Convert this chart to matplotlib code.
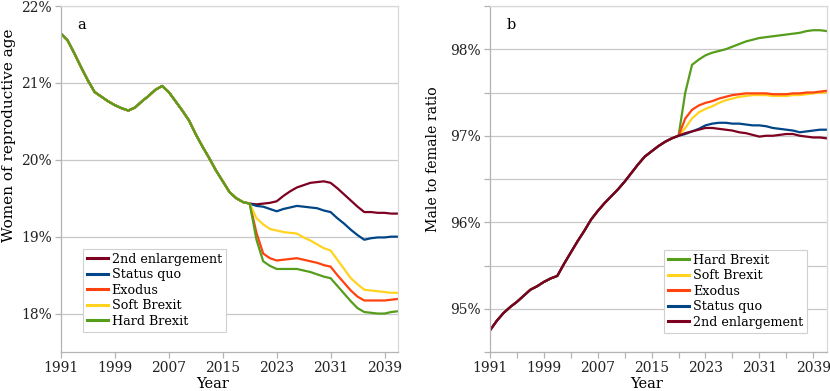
import matplotlib
matplotlib.use("Agg")
import matplotlib.pyplot as plt
from matplotlib.ticker import FixedLocator, FuncFormatter, MultipleLocator

plt.rcParams['font.family'] = ['DejaVu Serif']

# ---------------- data ----------------
hist_years = list(range(1991, 2020))
scen_years = list(range(2019, 2042))

# Panel a: share of women of reproductive age (%)
women_hist = [21.64, 21.55, 21.38, 21.20, 21.03, 20.88, 20.82, 20.76, 20.71, 20.67,
              20.64, 20.68, 20.76, 20.83, 20.91, 20.96, 20.88, 20.76, 20.64, 20.51,
              20.33, 20.17, 20.02, 19.86, 19.72, 19.58, 19.50, 19.45, 19.43]
women_2nd = [19.43, 19.42, 19.43, 19.44, 19.46, 19.53, 19.59, 19.64, 19.67, 19.70,
             19.71, 19.72, 19.70, 19.63, 19.55, 19.47, 19.39, 19.32, 19.32, 19.31,
             19.31, 19.30, 19.30]
women_sq = [19.43, 19.40, 19.39, 19.36, 19.33, 19.36, 19.38, 19.40, 19.39, 19.38,
            19.37, 19.34, 19.32, 19.24, 19.17, 19.09, 19.02, 18.96, 18.98, 18.99,
            18.99, 19.00, 19.00]
women_exodus = [19.43, 19.05, 18.78, 18.72, 18.69, 18.70, 18.71, 18.72, 18.70, 18.68,
                18.66, 18.63, 18.61, 18.50, 18.40, 18.30, 18.22, 18.17, 18.17, 18.17,
                18.17, 18.18, 18.19]
women_soft = [19.43, 19.24, 19.16, 19.10, 19.08, 19.06, 19.05, 19.04, 18.99, 18.95,
              18.90, 18.85, 18.82, 18.70, 18.58, 18.46, 18.38, 18.31, 18.30, 18.29,
              18.28, 18.27, 18.27]
women_hard = [19.43, 18.96, 18.68, 18.62, 18.58, 18.58, 18.58, 18.58, 18.56, 18.54,
              18.51, 18.48, 18.46, 18.36, 18.26, 18.16, 18.07, 18.02, 18.01, 18.00,
              18.00, 18.02, 18.03]

# Panel b: male to female ratio (%)
ratio_hist = [94.75, 94.86, 94.95, 95.02, 95.08, 95.15, 95.22, 95.26, 95.31, 95.35,
              95.38, 95.52, 95.65, 95.78, 95.90, 96.03, 96.13, 96.22, 96.30, 96.38,
              96.47, 96.57, 96.67, 96.76, 96.82, 96.88, 96.93, 96.97, 97.00]
ratio_hard = [97.00, 97.50, 97.82, 97.88, 97.93, 97.96, 97.98, 98.00, 98.03, 98.06,
              98.09, 98.11, 98.13, 98.14, 98.15, 98.16, 98.17, 98.18, 98.19, 98.21,
              98.22, 98.22, 98.21]
ratio_soft = [97.00, 97.09, 97.20, 97.27, 97.31, 97.34, 97.38, 97.41, 97.43, 97.45,
              97.46, 97.47, 97.47, 97.47, 97.46, 97.46, 97.46, 97.47, 97.47, 97.48,
              97.49, 97.50, 97.50]
ratio_exodus = [97.00, 97.20, 97.30, 97.35, 97.38, 97.40, 97.43, 97.45, 97.47, 97.48,
                97.49, 97.49, 97.49, 97.49, 97.48, 97.48, 97.48, 97.49, 97.49, 97.50,
                97.50, 97.51, 97.52]
ratio_sq = [97.00, 97.02, 97.05, 97.08, 97.12, 97.14, 97.15, 97.15, 97.14, 97.14,
            97.13, 97.12, 97.12, 97.11, 97.09, 97.08, 97.07, 97.06, 97.04, 97.05,
            97.06, 97.07, 97.07]
ratio_2nd = [97.00, 97.03, 97.05, 97.07, 97.09, 97.09, 97.08, 97.07, 97.06, 97.04,
             97.03, 97.01, 96.99, 97.00, 97.00, 97.01, 97.02, 97.02, 97.00, 96.99,
             96.98, 96.98, 96.97]

xtick_labels = [1991, 1999, 2007, 2015, 2023, 2031, 2039]

colors = {
    "2nd enlargement": "#7e0021",
    "Status quo": "#004586",
    "Exodus": "#ff420e",
    "Soft Brexit": "#ffd320",
    "Hard Brexit": "#579d1c",
}

full_years = hist_years + scen_years[1:]

fig = plt.figure(figsize=(8.30, 3.91), dpi=100)
W, H = 830, 391
def ax_rect(x0, x1, ytop, ybot):
    return [x0 / W, 1 - ybot / H, (x1 - x0) / W, (ybot - ytop) / H]

axA = fig.add_axes(ax_rect(61, 398, 6, 352))
axB = fig.add_axes(ax_rect(490, 826.7, 6, 352))

grid_c = "#c8c8c8"
spine_c = "#b3b3b3"
pct = FuncFormatter(lambda v, p: f"{v:.0f}%")

def style(ax):
    for s in ax.spines.values():
        s.set_color("#d9d9d9")
        s.set_linewidth(0.9)
    ax.spines['left'].set_color(spine_c)
    ax.spines['bottom'].set_color(spine_c)
    ax.set_xlim(1991, 2041)
    ax.xaxis.set_major_locator(FixedLocator(xtick_labels))
    ax.set_xticklabels([str(v) for v in xtick_labels])
    ax.tick_params(axis='both', which='both', direction='out', color=spine_c,
                   labelsize=10, labelcolor="#222222", length=4, width=0.9, pad=2.5)
    ax.grid(axis='y', color=grid_c, linewidth=0.9)
    ax.set_axisbelow(True)

leg_kw = dict(loc='lower left', borderaxespad=0, fontsize=9.2, labelspacing=0.2,
              handlelength=1.65, handletextpad=0.3, borderpad=0.3, fancybox=False,
              framealpha=1, edgecolor="#d0d0d0")

# ---- Panel a ----
seriesA = [
    ("2nd enlargement", women_2nd),
    ("Status quo", women_sq),
    ("Exodus", women_exodus),
    ("Soft Brexit", women_soft),
    ("Hard Brexit", women_hard),
]
for name, vals in seriesA:
    axA.plot(full_years, women_hist + vals[1:], color=colors[name], lw=1.6,
             label=name, solid_joinstyle='round')
style(axA)
axA.set_ylim(17.5, 22)
axA.yaxis.set_major_locator(FixedLocator([18, 19, 20, 21, 22]))
axA.yaxis.set_major_formatter(pct)
axA.set_ylabel("Women of reproductive age", fontsize=11)
axA.yaxis.set_label_coords(-0.135, 0.627)
axA.set_xlabel("Year", fontsize=10.5)
axA.xaxis.set_label_coords(0.45, -0.072)
axA.text(0.047, 0.945, "a", transform=axA.transAxes, fontsize=10.5, va='center')
legA = axA.legend(bbox_to_anchor=(0.065, 0.059), **leg_kw)
legA.get_frame().set_linewidth(0.8)
for l in legA.get_lines():
    l.set_linewidth(2.2)

# ---- Panel b ----
seriesB = [
    ("Hard Brexit", ratio_hard),
    ("Soft Brexit", ratio_soft),
    ("Exodus", ratio_exodus),
    ("Status quo", ratio_sq),
    ("2nd enlargement", ratio_2nd),
]
for name, vals in seriesB:
    axB.plot(full_years, ratio_hist + vals[1:], color=colors[name], lw=1.6,
             label=name, solid_joinstyle='round')
style(axB)
axB.set_ylim(94.5, 98.5)
axB.yaxis.set_major_locator(MultipleLocator(0.5))
axB.yaxis.set_major_formatter(FuncFormatter(lambda v, p: f"{v:.0f}%" if abs(v - round(v)) < 1e-6 else ""))
axB.xaxis.set_minor_locator(FixedLocator([1995, 2003, 2011, 2019, 2027, 2035]))
axB.set_ylabel("Male to female ratio", fontsize=10.2)
axB.yaxis.set_label_coords(-0.148, 0.556)
axB.set_xlabel("Year", fontsize=10.5)
axB.xaxis.set_label_coords(0.465, -0.072)
axB.text(0.048, 0.945, "b", transform=axB.transAxes, fontsize=10.5, va='center')
legB = axB.legend(bbox_to_anchor=(0.518, 0.056), **leg_kw)
legB.get_frame().set_linewidth(0.8)
for l in legB.get_lines():
    l.set_linewidth(2.2)

fig.savefig("out.png", dpi=100)
